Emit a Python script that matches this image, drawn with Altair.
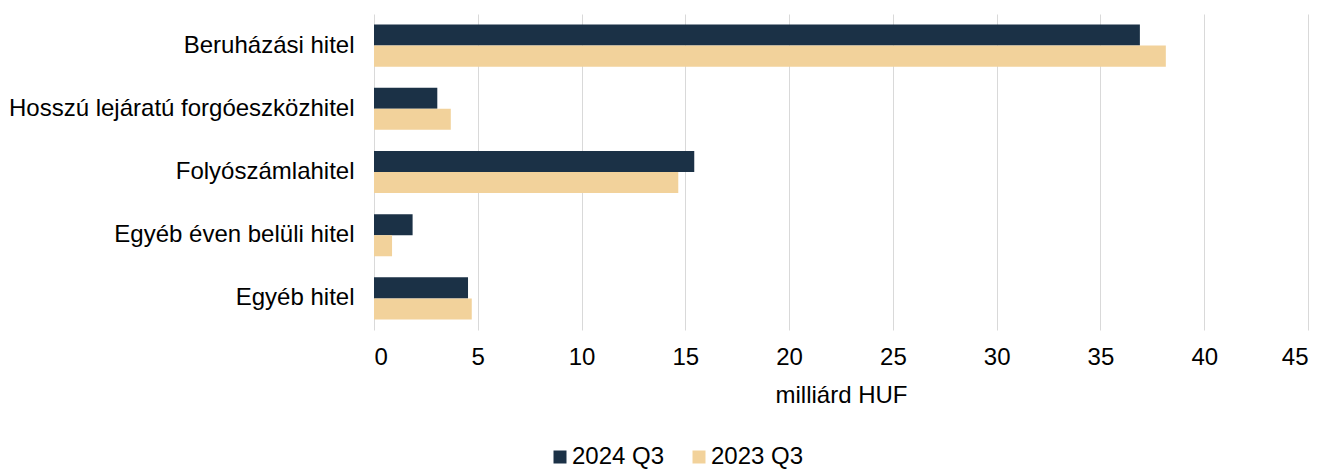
import altair as alt
import pandas as pd

categories = ["Beruházási hitel", "Hosszú lejáratú forgóeszközhitel", "Folyószámlahitel",
              "Egyéb éven belüli hitel", "Egyéb hitel"]
series_names = ["2024 Q3", "2023 Q3"]
values_2024 = [36.9, 3.05, 15.43, 1.86, 4.53]
values_2023 = [38.15, 3.7, 14.66, 0.87, 4.71]
colors = ["#1B3146", "#F2D29B"]

rows = []
for c, v in zip(categories, values_2024):
    rows.append({"cat": c, "series": series_names[0], "value": v})
for c, v in zip(categories, values_2023):
    rows.append({"cat": c, "series": series_names[1], "value": v})
df = pd.DataFrame(rows)

FONT = "Liberation Sans, Arial, sans-serif"
FS = 24

chart = alt.Chart(df).mark_bar().encode(
    x=alt.X("value:Q", title="milliárd HUF",
            scale=alt.Scale(domain=[0, 45], nice=False),
            axis=alt.Axis(values=list(range(0, 50, 5)), grid=True, gridColor="#D9D9D9",
                          domain=False, ticks=False, tickSize=0, labelPadding=15,
                          labelFontSize=FS, labelColor="#000000", labelFont=FONT,
                          titleFontSize=FS, titleFont=FONT, titleFontWeight="normal",
                          titleColor="#000000", titlePadding=14)),
    y=alt.Y("cat:N", sort=categories, title=None,
            scale=alt.Scale(paddingInner=1/3, paddingOuter=1/6),
            axis=alt.Axis(domain=False, ticks=False, tickSize=0, labelPadding=20,
                          labelFontSize=FS, labelColor="#000000", labelFont=FONT,
                          labelLimit=600)),
    yOffset=alt.YOffset("series:N", sort=series_names),
    color=alt.Color("series:N", sort=series_names,
                    scale=alt.Scale(domain=series_names, range=colors),
                    legend=alt.Legend(title=None, orient="none", direction="horizontal",
                                      legendX=174, legendY=431, padding=0,
                                      symbolType="square", symbolSize=169,
                                      symbolStrokeWidth=0, labelFontSize=FS,
                                      labelFont=FONT, labelColor="#000000",
                                      labelOffset=0, columnPadding=22)),
).properties(
    width=934, height=316,
    padding={"left": 0, "top": 6, "right": 5, "bottom": 0},
).configure_view(stroke=None)

chart.save("out.html", embed_options={"renderer": "svg", "actions": False})
